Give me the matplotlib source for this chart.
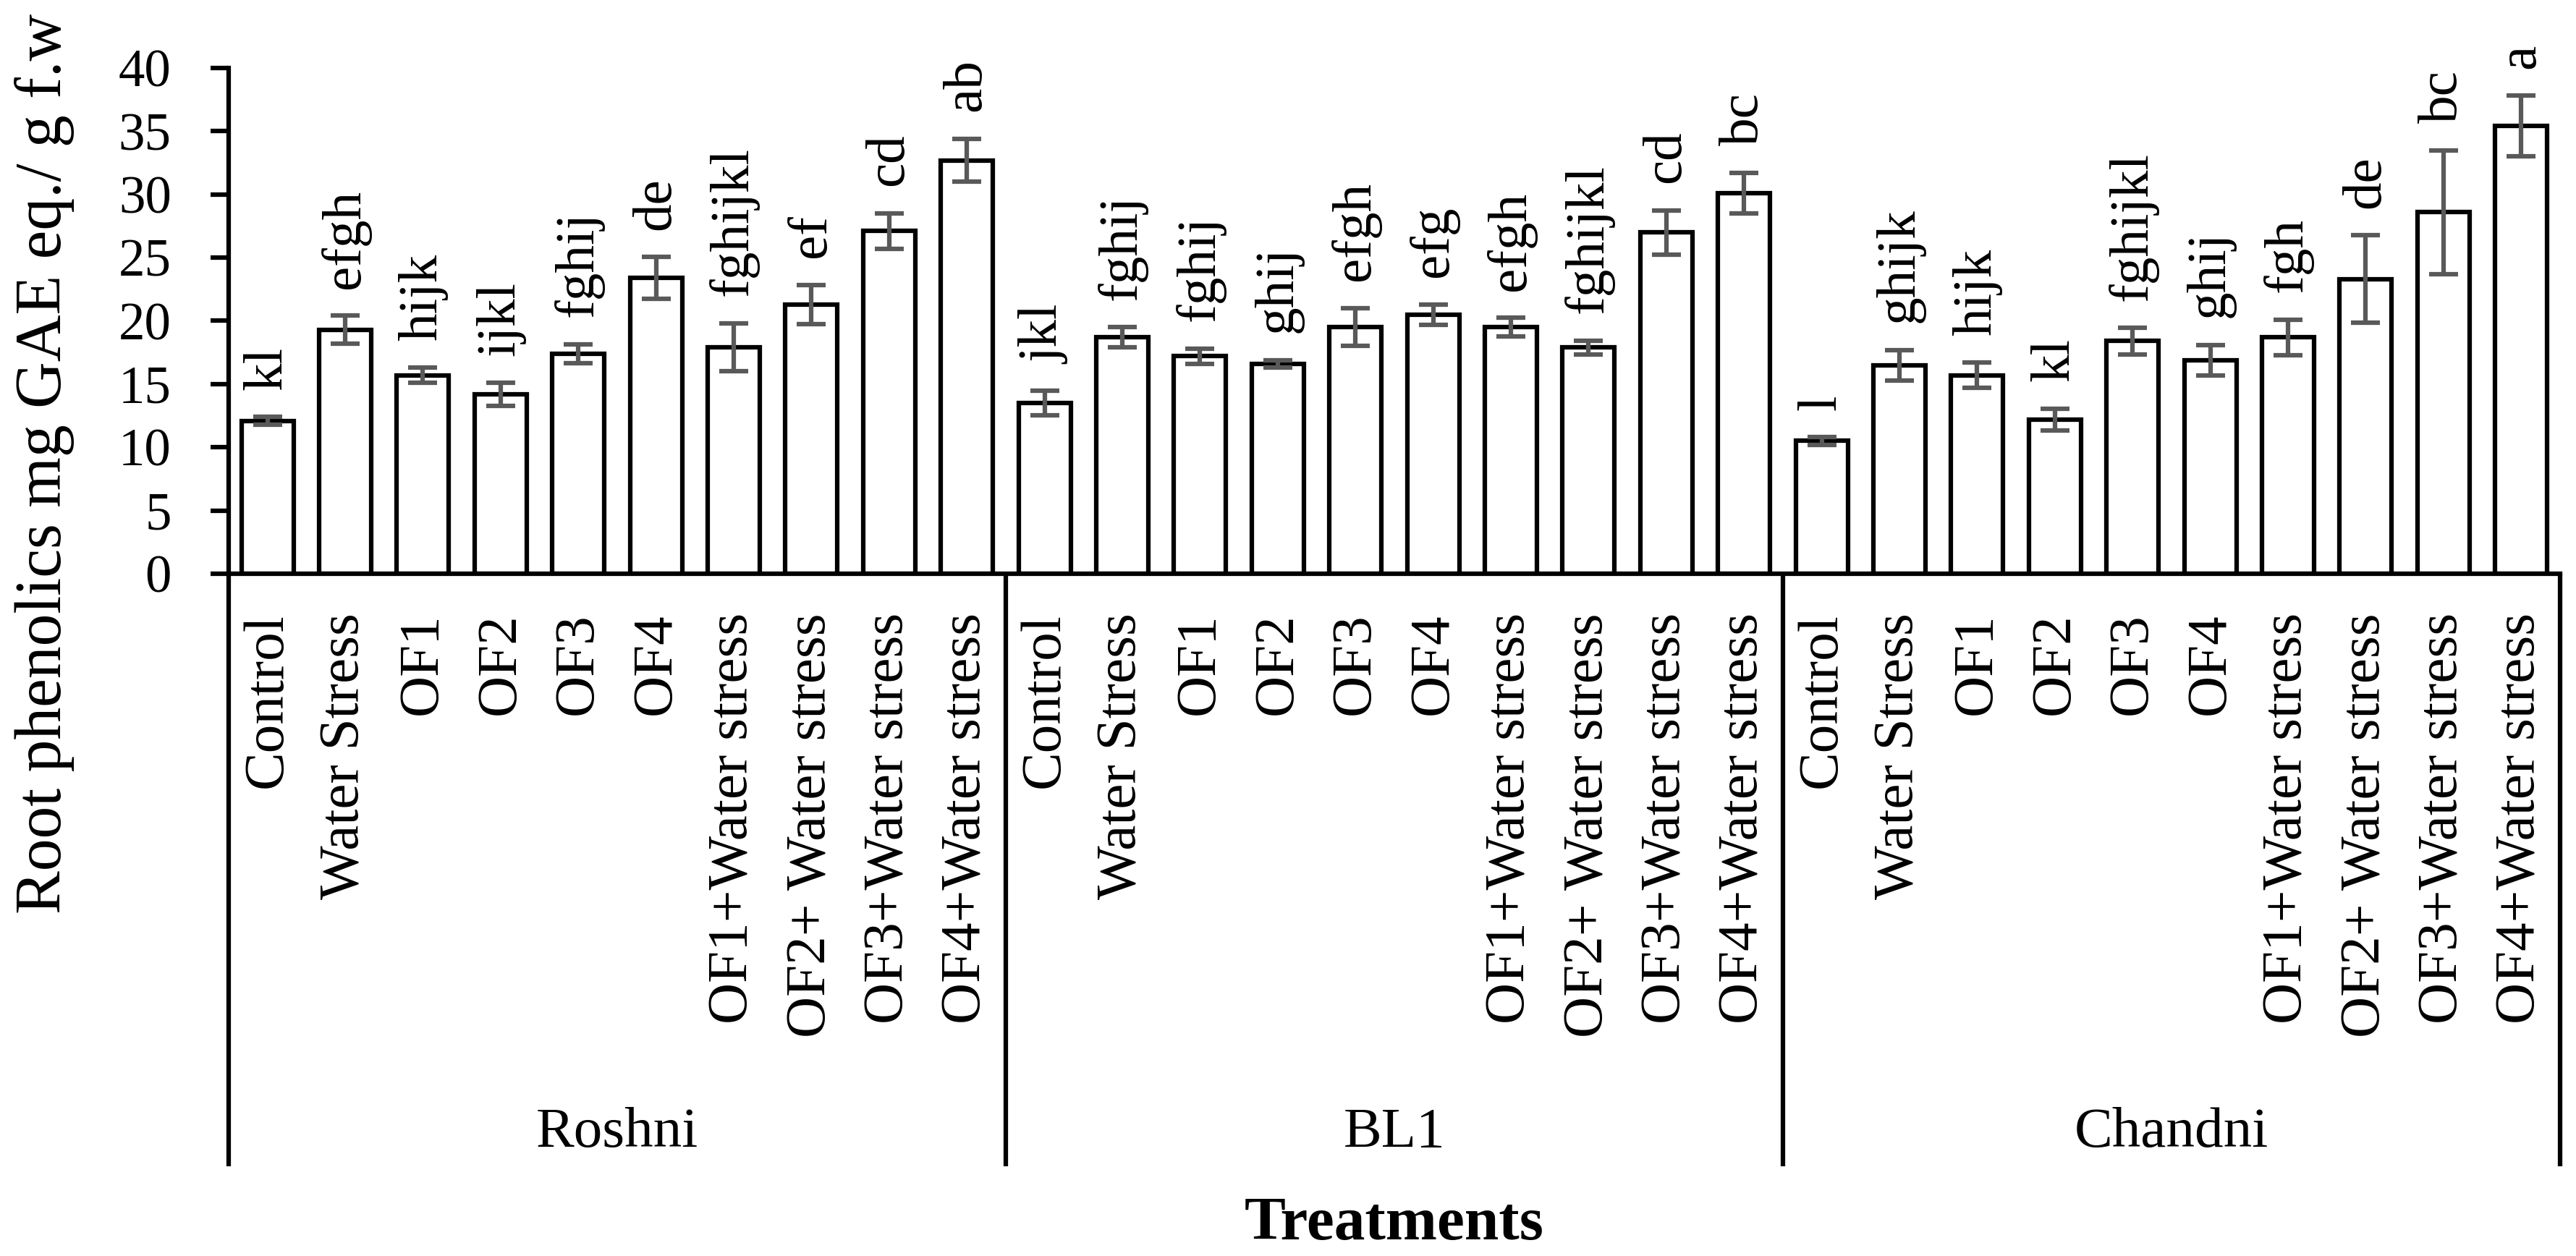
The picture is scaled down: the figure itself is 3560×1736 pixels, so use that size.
import matplotlib
matplotlib.use("Agg")
import matplotlib.pyplot as plt
import matplotlib.transforms as mtransforms
import numpy as np

# data
varieties = ["Roshni", "BL1", "Chandni"]
treatments = ["Control", "Water Stress", "OF1", "OF2", "OF3", "OF4",
              "OF1+Water stress", "OF2+ Water stress", "OF3+Water stress",
              "OF4+Water stress"]

roshni_mean = [12.1, 19.3, 15.7, 14.2, 17.4, 23.4, 17.9, 21.3, 27.1, 32.7]
roshni_err = [0.3, 1.1, 0.6, 0.9, 0.75, 1.65, 1.9, 1.55, 1.4, 1.7]
roshni_letters = ["kl", "efgh", "hijk", "ijkl", "fghij", "de", "fghijkl", "ef", "cd", "ab"]

bl1_mean = [13.5, 18.7, 17.2, 16.6, 19.5, 20.5, 19.5, 17.9, 27.0, 30.1]
bl1_err = [0.95, 0.8, 0.6, 0.3, 1.5, 0.8, 0.75, 0.55, 1.75, 1.6]
bl1_letters = ["jkl", "fghij", "fghij", "ghij", "efgh", "efg", "efgh", "fghijkl", "cd", "bc"]

chandni_mean = [10.5, 16.5, 15.7, 12.2, 18.4, 16.9, 18.7, 23.3, 28.6, 35.4]
chandni_err = [0.3, 1.2, 1.0, 0.85, 1.05, 1.2, 1.4, 3.45, 4.9, 2.4]
chandni_letters = ["l", "ghijk", "hijk", "kl", "fghijkl", "ghij", "fgh", "de", "bc", "a"]

means = roshni_mean + bl1_mean + chandni_mean
errs = roshni_err + bl1_err + chandni_err
letters = roshni_letters + bl1_letters + chandni_letters
labels = treatments * len(varieties)

plt.rcParams['font.family'] = ['Liberation Serif', 'DejaVu Serif']

fig = plt.figure(figsize=(3561 / 300, 1736 / 300), dpi=300)
ax = fig.add_axes([0.0887, 0.5432, 0.9048, 0.4027])

x = np.arange(len(means))
ax.bar(x, means, width=0.67, color="white", edgecolor="black", linewidth=1.5, zorder=2)
ax.errorbar(x, means, yerr=errs, fmt="none", ecolor="#595959", elinewidth=1.5,
            capsize=4.7, capthick=1.5, zorder=3)

for xi, m, e, lab in zip(x, means, errs, letters):
    ax.annotate(lab, (xi, m + e), xytext=(0, 9), textcoords="offset points",
                rotation=90, ha="center", va="bottom", fontsize=18.5)

ax.set_xlim(-0.5, len(means) - 0.5)
ax.set_ylim(0, 40)
ax.set_yticks(np.arange(0, 41, 5))
ax.set_xticks(x)
ax.set_xticklabels(labels, rotation=90, va="top", ha="center", fontsize=19)
ax.tick_params(axis="x", length=0, pad=13)
ax.tick_params(axis="y", length=6, width=1.5, pad=13, labelsize=17.5)

for s in ["top", "right"]:
    ax.spines[s].set_visible(False)
ax.spines["left"].set_linewidth(1.5)
ax.spines["bottom"].set_linewidth(1.5)

# group separators and variety names under the tick labels
trans = mtransforms.blended_transform_factory(ax.transData, ax.transAxes)
n = len(treatments)
for g in range(len(varieties) + 1):
    xb = g * n - 0.5
    ax.plot([xb, xb], [0, -1.172], transform=trans, color="black", lw=1.5,
            clip_on=False, solid_capstyle="butt")
for g, name in enumerate(varieties):
    ax.text(g * n + (n - 1) / 2, -1.133, name, transform=trans, ha="center",
            va="baseline", fontsize=19)

ax.text(0.5, -1.316, "Treatments", transform=ax.transAxes, ha="center",
        va="baseline", fontsize=20.5, fontweight="bold")

fig.text(0.0174, 0.6308, "Root phenolics mg GAE eq./ g f.w", rotation=90,
         ha="center", va="center", fontsize=21.5)

fig.savefig("out.png", dpi=300)
